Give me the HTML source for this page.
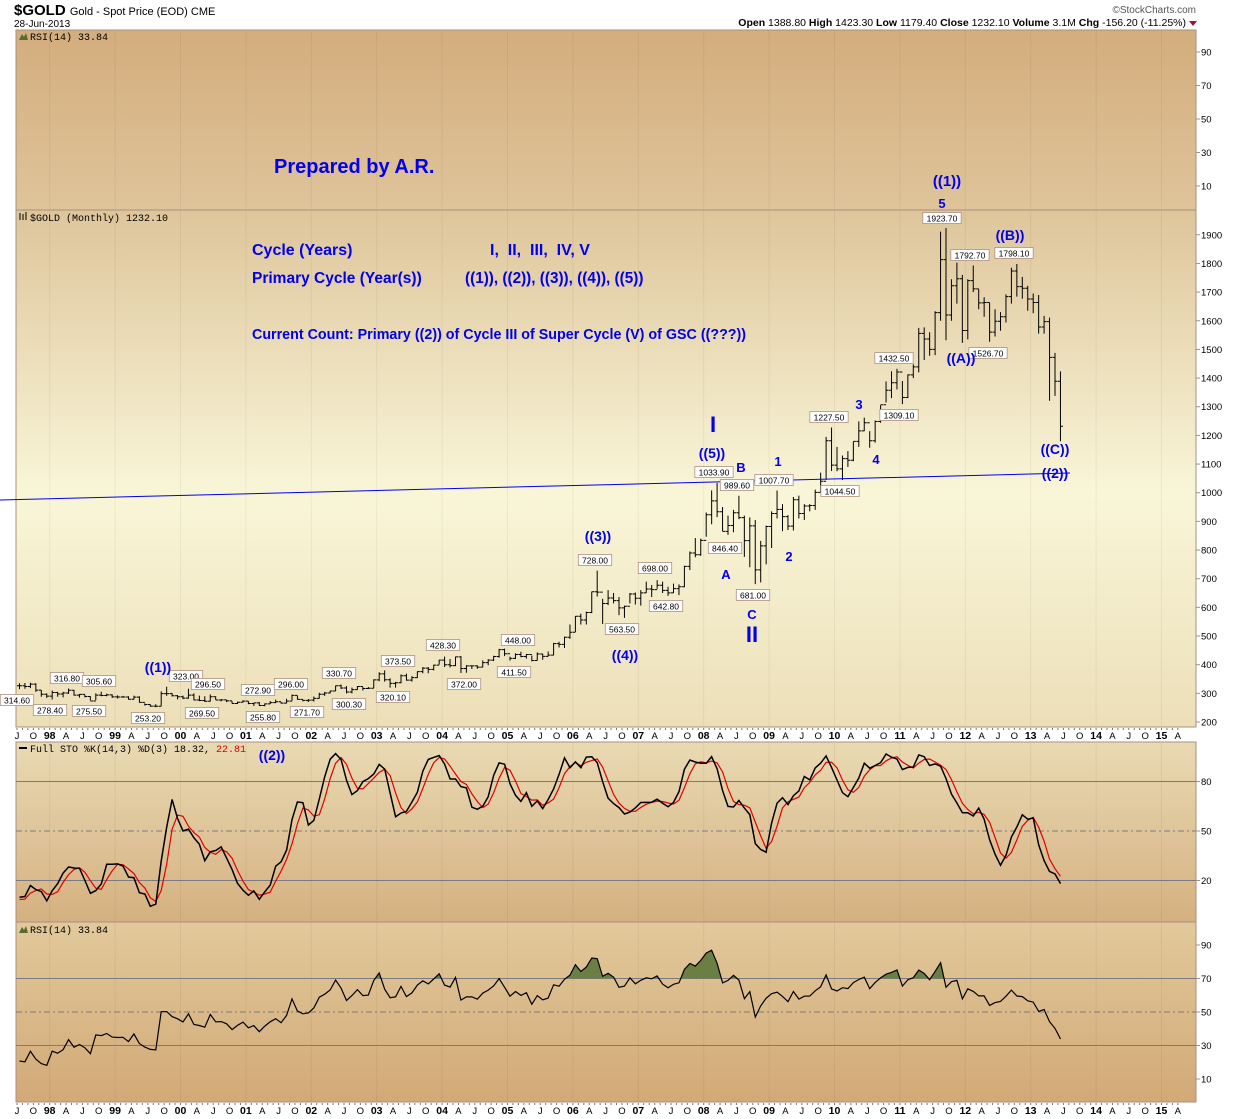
<!DOCTYPE html>
<html><head><meta charset="utf-8"><style>
body{margin:0;background:#fff;width:1240px;height:1119px;overflow:hidden;font-family:"Liberation Sans",sans-serif}
svg{position:absolute;left:0;top:0}
</style></head><body>
<svg id="c" width="1240" height="1119" viewBox="0 0 1240 1119">
<defs>
<linearGradient id="gTop" x1="0" y1="0" x2="0" y2="1"><stop offset="0" stop-color="#d3ad7d"/><stop offset="1" stop-color="#dfc49a"/></linearGradient>
<linearGradient id="gPrice" x1="0" y1="0" x2="0" y2="1"><stop offset="0" stop-color="#dec59b"/><stop offset="0.55" stop-color="#f9f6d8"/><stop offset="1" stop-color="#ecdfb8"/></linearGradient>
<linearGradient id="gSto" x1="0" y1="0" x2="0" y2="1"><stop offset="0" stop-color="#e9dab3"/><stop offset="1" stop-color="#d5b080"/></linearGradient>
<linearGradient id="gRsi" x1="0" y1="0" x2="0" y2="1"><stop offset="0" stop-color="#e2c99b"/><stop offset="1" stop-color="#d2a977"/></linearGradient>
</defs>
<g font-family="Liberation Sans, sans-serif">
<text x="14" y="15" font-size="15" font-weight="bold">$GOLD <tspan font-size="11" font-weight="normal">Gold - Spot Price (EOD)  CME</tspan></text>
<text x="14" y="27" font-size="10">28-Jun-2013</text>
<text x="1196" y="13" font-size="10" fill="#555" text-anchor="end">©StockCharts.com</text>
<text x="1186" y="26" font-size="10.5" text-anchor="end"><tspan font-weight="bold">Open</tspan> 1388.80  <tspan font-weight="bold">High</tspan> 1423.30  <tspan font-weight="bold">Low</tspan> 1179.40  <tspan font-weight="bold">Close</tspan> 1232.10  <tspan font-weight="bold">Volume</tspan> 3.1M  <tspan font-weight="bold">Chg</tspan> -156.20 (-11.25%)</text>
<path d="M1189 21 L1197 21 L1193 26 Z" fill="#a0103a"/>
</g>
<g id="panels"></g>
<g id="marks"></g>
<g id="ann" font-family="Liberation Sans, sans-serif" fill="#0000ee" font-weight="bold"></g>
</svg>
<script>
// ---- warm-up history (Jan 1996 .. Jun 1997), not drawn as bars ----
const preCloses=[405,400,396,393,392,382,385,387,379,379,371,369,345,364,352,340,345,334];
const preHighs=[418,416,403,400,396,392,387,390,388,386,384,372,368,367,365,355,350,348];
const preLows=[398,395,392,389,388,380,380,384,377,376,369,365,341,342,346,338,340,332];
// ---- data (monthly, Jul 1997 .. Jun 2013) ----
const closes=[326.4,324.0,332.1,311.4,296.8,290.2,
303.0,297.8,301.0,310.7,293.6,296.3,288.9,273.4,293.9,292.3,294.7,287.8,
287.1,287.3,279.5,286.6,268.6,261.0,255.6,254.8,299.0,299.1,291.4,288.0,
283.2,293.7,276.8,275.1,272.3,288.2,276.8,277.0,273.7,264.5,269.1,272.7,
264.5,266.7,257.7,263.2,267.5,270.6,265.9,273.0,293.1,279.0,275.5,276.5,
282.3,296.9,301.4,308.2,326.6,318.5,304.7,312.8,323.7,316.9,317.7,347.2,
368.1,347.5,334.9,336.8,361.4,346.0,354.8,375.6,388.0,383.8,398.4,416.1,
399.8,396.8,427.3,386.5,395.7,395.8,391.4,407.3,415.7,428.4,452.4,438.0,
422.2,435.5,428.5,435.7,414.5,437.1,429.0,433.3,473.3,470.8,495.7,513.0,
568.8,556.0,582.0,654.5,653.0,613.5,632.5,623.5,598.0,603.8,646.7,632.0,
650.5,664.2,661.8,677.0,659.1,650.5,665.5,672.0,743.0,789.5,783.5,833.8,
923.3,971.5,933.5,865.0,885.8,930.3,913.0,833.0,884.5,730.8,814.5,882.1,
927.3,942.0,916.5,883.3,975.5,927.4,953.7,955.5,1001.2,1039.9,1181.3,1096.2,
1083.0,1118.9,1113.3,1179.2,1215.8,1244.0,1181.3,1248.3,1307.0,1357.6,1383.5,1421.1,
1332.1,1411.0,1439.0,1556.0,1536.5,1500.2,1628.3,1813.5,1620.0,1722.0,1746.4,1565.8,
1740.0,1711.3,1662.5,1663.9,1560.4,1598.5,1614.0,1684.0,1773.5,1719.0,1713.5,1675.8,
1663.8,1578.3,1597.0,1472.2,1388.8,1232.1];
const highs=[335,336,337,335,311,300,
310,305,305,316.8,312,298,295,290,300,305.6,299,297,
293,291,290,292,290,265,262,262,307,323,301,294,
292,316,300,292,290,296.5,290,280,278,273,271,276,
273,267,270,265,272.9,278,270,281,296,292,278,280,
289,302,305,309,327,330.7,325,320,325,322,322,349,
373.5,380,352,340,366,369,360,376,392,392,400,417,
428,420,428.3,430,398,398,398,415,419,431,455,456,
428,440,445,437,432,443,438,446,476,480,498,540,
570,578,585,655,728,630,660,650,636,606,650,652,
660,690,678,695,690,672,683,680,745,795,842,840,
931,1008,1033.9,950,920,940,989.6,920,914,905,832,885,
935,1007.7,960,922,985,990,960,960,1011,1070,1195,1227.5,
1160,1130,1145,1178,1249,1262,1215,1252,1305,1388,1424,1432.5,
1390,1413,1448,1575,1577,1560,1633,1911,1923.7,1745,1803,1760,
1745,1792.7,1710,1682,1663,1640,1630,1692,1785,1798.1,1753,1722,
1695,1690,1617,1611,1488,1423.3];
const lows=[314.6,316,318,305,288,284,
278.4,288,286,298,292,285,286,275.5,276,290,290,284,
282,285,278,278,268,257,253.2,252,255,291,289,279,
280,281,276,273,270,271,277,272,269.5,264,263,268,
262,255.8,256,255,263,266,264,265,274,278,272,270,
271.7,281,291,300,308,315,300,300,312,310,315,318,
342,341,320.1,320,335,344,341,354,370,370,380,400,
392,390,395,371,372,385,386,391,398,413,424,430,
414,420,426,421,411.5,414,417,429,433,460,458,490,
514,540,540,580,638,542,608,614,573,563.5,614,610,
606,650,636,665,650,640,650,642.8,670,730,775,780,
846.4,890,915,866,853,862,908,776,740,681,687,750,
807,910,866,870,868,910,905,935,940,1003,1045,1076,
1075,1044.5,1090,1110,1160,1215,1157,1175,1244,1315,1330,1360,
1309.1,1330,1400,1420,1463,1478,1480,1600,1532,1600,1660,1523,
1535,1700,1640,1614,1526.7,1545,1565,1594,1660,1684,1677,1635,
1626,1555,1555,1321,1338,1179.4];
const rsiTicks=[90,70,50,30,10];
const stoTicks=[80,50,20];
const priceTicks=[1900,1800,1700,1600,1500,1400,1300,1200,1100,1000,900,800,700,600,500,400,300,200];

// ---- axes ----
const L=16,R=1196,MW=5.45;
const xM=i=>L+1+i*MW+2.5;
const yP=p=>722-(p-200)*0.2866;
const yS=v=>831-(v-50)*1.65;
const yR=v=>1012-(v-50)*1.675;
const yT=v=>119-(v-50)*1.675;
const NS='http://www.w3.org/2000/svg';
function mk(tag,attrs,parent,txt){const e=document.createElementNS(NS,tag);for(const k in attrs)e.setAttribute(k,attrs[k]);if(txt!==undefined)e.textContent=txt;parent.appendChild(e);return e;}
const P=document.getElementById('panels'),M=document.getElementById('marks'),A=document.getElementById('ann');

function panel(name,y0,y1,fill,ticks,yf){
  const r=mk('rect',{x:L,y:y0,width:R-L,height:y1-y0,fill:fill,stroke:'#a89080','stroke-width':1},P);
  
  
  for(let yr=1998;yr<=2015;yr++){const x=L+1+((yr-1997)*12-6)*MW;mk('line',{x1:x,x2:x,y1:y0+1,y2:y1-1,stroke:'#000','stroke-opacity':0.05},P);}
  ticks.forEach(t=>{const y=yf(t);mk('line',{x1:R,x2:R+4,y1:y,y2:y,stroke:'#a89080'},P);
    const tx=mk('text',{x:R+5,y:y+3.5,'font-size':9.5,'font-family':'Liberation Sans, sans-serif'},P,String(t));
    
    });
}
panel('rsi-top-panel',30,210,'url(#gTop)',rsiTicks,yT);
panel('price-panel',210,727,'url(#gPrice)',priceTicks,yP);
panel('sto-panel',742,922,'url(#gSto)',stoTicks,yS);
panel('rsi-panel',922,1102,'url(#gRsi)',rsiTicks,yR);

function xaxis(y0,name){
  const months=['J','F','M','A','M','J','J','A','S','O','N','D'];
  for(let i=0;i<214;i++){const x=L+1+i*MW;if(x>R)break;mk('line',{x1:x,x2:x,y1:y0,y2:y0+2,stroke:'#777'},P);
    const mo=(6+i)%12,yr=1997+Math.floor((6+i)/12);
    if(mo%3===0){const isY=mo===0;const t=mk('text',{x:x,y:y0+11,'font-size':isY?10.5:9.5,'font-weight':isY?'bold':'normal','text-anchor':'middle','font-family':'Liberation Sans, sans-serif'},P,isY?String(yr%100).padStart(2,'0'):months[mo]);
      
      }}
}
xaxis(728,'x-axis-top');xaxis(1103,'x-axis-bottom');

function ptitle(x,y,txt,name,extra){const t=mk('text',{x:x,y:y,'font-size':10,'font-family':'Liberation Mono, monospace'},P,txt);if(extra){mk('tspan',{fill:'#e00000'},t,extra);}}
ptitle(30,40,'RSI(14) 33.84','rsi-top-title');
mk('path',{d:'M19 40 L22 34 L24 37 L26 33 L28 40 Z',fill:'#556b2f'},P);
ptitle(30,221,'$GOLD (Monthly) 1232.10','price-title');
mk('path',{d:'M20 220 V213 M23 220 V214 M26 220 V212',stroke:'#000'},P);
ptitle(30,752,'Full STO %K(14,3) %D(3) 18.32, ','sto-title','22.81');
mk('line',{x1:19,x2:27,y1:748,y2:748,stroke:'#000','stroke-width':2},P);
ptitle(30,933,'RSI(14) 33.84','rsi-title');
mk('path',{d:'M19 933 L22 927 L24 930 L26 926 L28 933 Z',fill:'#556b2f'},P);

[[yS(80),''],[yS(50),'6 3 2 3'],[yS(20),''],[yR(70),''],[yR(50),'6 3 2 3'],[yR(30),'']].forEach(([y,d])=>mk('line',{x1:L,x2:R,y1:y,y2:y,stroke:'#7a7a80','stroke-dasharray':d},P));

// price bars
const n=closes.length;
for(let i=0;i<n;i++){
  const x=xM(i),o=i>0?closes[i-1]:closes[i];
  const b=mk('path',{d:`M${x} ${yP(highs[i])}V${yP(lows[i])}M${x-2.5} ${yP(o)}H${x}M${x} ${yP(closes[i])}H${x+2.5}`,stroke:'#000','stroke-width':1,fill:'none'},M);
  
  
}
// indicators computed over warm-up + visible data
const AC=preCloses.concat(closes),AH=preHighs.concat(highs),AL=preLows.concat(lows),off=preCloses.length,N=AC.length;
const rsiA=[];let ag=0,al=0;
for(let i=1;i<N;i++){const d=AC[i]-AC[i-1],g=Math.max(d,0),l=Math.max(-d,0);
  if(i<=14){ag=(ag*(i-1)+g)/i;al=(al*(i-1)+l)/i;}else{ag=(ag*13+g)/14;al=(al*13+l)/14;}
  rsiA[i]=al===0?100:100-100/(1+ag/al);}
rsiA[0]=rsiA[1];
const fk=[];for(let i=0;i<N;i++){let hh=-1e9,ll=1e9;for(let j=Math.max(0,i-13);j<=i;j++){hh=Math.max(hh,AH[j]);ll=Math.min(ll,AL[j]);}fk[i]=(AC[i]-ll)/(hh-ll)*100;}
const sma=(a,p)=>a.map((v,i)=>{let s=0,c=0;for(let j=Math.max(0,i-p+1);j<=i;j++){s+=a[j];c++;}return s/c;});
const KA=sma(fk,3),DA=sma(KA,3);
const rsi=rsiA.slice(off),K=KA.slice(off),D=DA.slice(off);
const pts=(a,yf)=>a.map((v,i)=>`${xM(i).toFixed(1)},${yf(v).toFixed(1)}`).join(' ');
const clip=mk('clipPath',{id:'above70'},M);mk('rect',{x:L,y:922,width:R-L,height:yR(70)-922},clip);
const fillPts=`${xM(0)},${yR(70)} `+pts(rsi,yR)+` ${xM(n-1)},${yR(70)}`;
const f=mk('polygon',{points:fillPts,fill:'#6b7f45','clip-path':'url(#above70)'},M);


const rl=mk('polyline',{points:pts(rsi,yR),fill:'none',stroke:'#000','stroke-width':1.2},M);


const dl=mk('polyline',{points:pts(D,yS),fill:'none',stroke:'#e00000','stroke-width':1.2},M);


const kl=mk('polyline',{points:pts(K,yS),fill:'none',stroke:'#000','stroke-width':1.5},M);



const tl=mk('line',{x1:0,y1:500,x2:1070,y2:473,stroke:'#0000ee','stroke-width':1},M);



const callouts=[['314.60',17,700],['278.40',50,710],['316.80',67,678],['305.60',99,681],['275.50',89,711],['253.20',148,718],['323.00',186,676],['296.50',208,684],['269.50',202,713],['272.90',258,690],['296.00',291,684],['255.80',263,717],['271.70',307,712],['330.70',339,673],['300.30',349,704],['373.50',398,661],['320.10',393,697],['428.30',443,645],['372.00',464,684],['448.00',518,640],['411.50',514,672],['728.00',595,560],['563.50',622,629],['698.00',655,568],['642.80',666,606],['1033.90',714,472],['989.60',737,485],['846.40',725,548],['681.00',753,595],['1007.70',774,480],['1227.50',829,417],['1044.50',840,491],['1432.50',894,358],['1309.10',899,415],['1923.70',942,218],['1792.70',970,255],['1798.10',1014,253],['1526.70',988,353]];
callouts.forEach(([t,cx,cy])=>{const w=t.length*4.9+4;
  mk('rect',{x:cx-w/2,y:cy-5.5,width:w,height:11,fill:'#fff',stroke:'#b09080','stroke-width':0.8},M);
  const tx=mk('text',{x:cx,y:cy+3.5,'font-size':8.5,'text-anchor':'middle','font-family':'Liberation Sans, sans-serif'},M,t);
  
  });

const ann=[['Prepared by A.R.',274,173,20,'start'],['((1))',947,186,15,'middle'],['5',942,208,13,'middle'],
['Cycle (Years)',252,255,16,'start'],['I,  II,  III,  IV, V',490,255,16,'start'],['Primary Cycle (Year(s))',252,283,15.5,'start'],['((1)), ((2)), ((3)), ((4)), ((5))',465,283,15.3,'start'],
['Current Count: Primary ((2)) of Cycle III of Super Cycle (V) of GSC ((???))',252,339,14.3,'start'],
['I',713,432,22,'middle'],['((5))',712,458,14,'middle'],['B',741,472,13,'middle'],['1',778,466,13,'middle'],['3',859,409,13,'middle'],['4',876,464,13,'middle'],['2',789,561,13,'middle'],['A',726,579,13,'middle'],['C',752,619,13,'middle'],['II',752,642,22,'middle'],
['((3))',598,541,14,'middle'],['((4))',625,660,14,'middle'],['((1))',158,672,14,'middle'],['((2))',272,760,14,'middle'],['((B))',1010,240,14,'middle'],['((A))',961,363,14,'middle'],['((C))',1055,454,14,'middle'],['((2))',1055,478,14,'middle']];
ann.forEach(([t,x,y,s,a])=>{const e=mk('text',{x:x,y:y,'font-size':s,'text-anchor':a,'xml:space':'preserve'},A,t);
  if(t.startsWith('I,'))e.setAttribute('style','white-space:pre');
  
  });
</script>
</body></html>
